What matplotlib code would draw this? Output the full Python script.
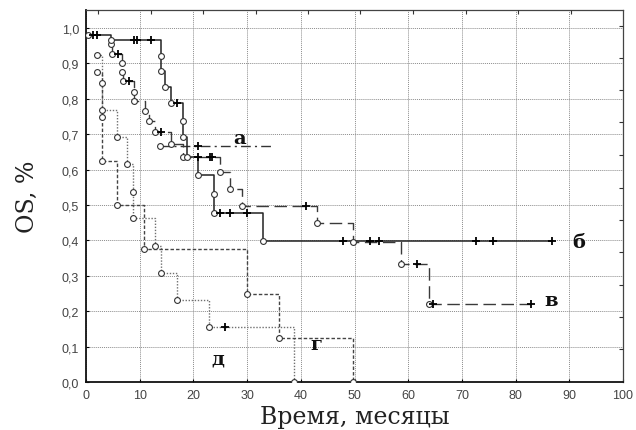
import matplotlib
matplotlib.use('Agg')
import matplotlib.pyplot as plt

# Kaplan-Meier curves:
# event times (months), survival after each event, censored times
a_time = [13.8]
a_surv = [0.667]
a_cens = [20.9]
a_end = 35.1

b_time = [0.4, 4.6, 13.9, 13.9, 14.8, 15.9, 18.0, 18.0, 18.8, 20.9, 23.8, 23.8, 32.9]
b_surv = [0.98, 0.966, 0.922, 0.879, 0.834, 0.788, 0.738, 0.691, 0.636, 0.585, 0.53, 0.478, 0.397]
b_cens = [1.3, 2.0, 8.9, 9.5, 12.1, 17.0, 24.9, 26.8, 29.9, 47.8, 52.8, 54.6, 72.6, 75.7, 86.7]

v_time = [4.6, 4.8, 6.7, 6.7, 6.9, 8.9, 8.9, 11.0, 11.8, 12.8, 15.9, 18.1,
          24.9, 26.8, 29.0, 43.0, 49.8, 58.7, 63.8]
v_surv = [0.955, 0.927, 0.901, 0.875, 0.849, 0.818, 0.795, 0.765, 0.738, 0.707, 0.672, 0.636,
          0.593, 0.545, 0.497, 0.45, 0.396, 0.333, 0.22]
v_cens = [6.0, 8.0, 13.9, 20.9, 23.1, 23.5, 40.9, 61.7, 64.7, 82.9]

g_time = [2.0, 2.9, 2.9, 5.8, 10.8, 29.9, 35.9, 49.8]
g_surv = [0.875, 0.75, 0.625, 0.5, 0.375, 0.25, 0.125, 0.0]
g_cens = []

d_time = [2.0, 2.9, 2.9, 5.8, 7.7, 8.8, 8.8, 12.8, 13.9, 16.9, 22.9, 38.8]
d_surv = [0.923, 0.846, 0.769, 0.692, 0.615, 0.538, 0.462, 0.385, 0.308, 0.231, 0.154, 0.0]
d_cens = [25.8]

# curve labels and where they sit
labels = ['а', 'б', 'в', 'г', 'д']
label_x = [28.6, 91.8, 86.6, 42.9, 24.5]
label_y = [0.69, 0.395, 0.232, 0.107, 0.067]

# odd tick marks on the top and right frame
top_ticks = [2.3, 12.1, 21.8, 31.6, 41.4, 51.1, 60.9, 70.7, 80.5, 90.3]
right_ticks = [1.006, 0.915, 0.825, 0.734, 0.641, 0.548, 0.457, 0.367, 0.274, 0.184, 0.093]


def km_path(times, surv, end):
    xs = [times[0]]
    ys = [surv[0]]
    for i in range(1, len(times)):
        xs += [times[i], times[i]]
        ys += [surv[i - 1], surv[i]]
    xs.append(end)
    ys.append(surv[-1])
    return xs, ys


def level(times, surv, c):
    lv = 1.0
    for t, s in zip(times, surv):
        if t < c:
            lv = s
    return lv


def draw_curve(ax, times, surv, cens, end, color, ls, lw):
    end = max([end] + list(cens) + list(times))
    xs, ys = km_path(times, surv, end)
    ax.plot(xs, ys, color=color, linestyle=ls, lw=lw, zorder=3)
    ax.plot(times, surv, 'o', ms=4.2, mfc='white', mec='#333333', mew=0.8, zorder=4)
    if cens:
        cy = [level(times, surv, c) for c in cens]
        ax.plot(cens, cy, '+', ms=5.5, mew=1.3, color='black', zorder=5)


fig = plt.figure(figsize=(6.36, 4.31), dpi=100)
ax = fig.add_axes([0.1352, 0.1114, 0.8444, 0.8631])

draw_curve(ax, d_time, d_surv, d_cens, 0, '#707070', (0, (1, 1.2)), 1.0)
draw_curve(ax, g_time, g_surv, g_cens, 0, '#444444', (0, (2.5, 1.5)), 1.0)
draw_curve(ax, a_time, a_surv, a_cens, a_end, '#333333', (0, (7, 3, 1.5, 3)), 1.0)
draw_curve(ax, v_time, v_surv, v_cens, 0, '#3a3a3a', (0, (9, 4)), 1.0)
draw_curve(ax, b_time, b_surv, b_cens, 0, '#222222', '-', 1.1)

for lab, x, y in zip(labels, label_x, label_y):
    ax.text(x, y, lab, fontsize=14, fontweight='bold', family='DejaVu Serif',
            ha='center', va='center', color='#111111')

ax.set_xlim(0, 100)
ax.set_ylim(0, 1.051)
ax.set_xticks(range(0, 101, 10))
ax.set_yticks([i / 10 for i in range(11)])
ax.set_yticklabels([('%.1f' % (i / 10)).replace('.', ',') for i in range(11)])
ax.grid(True, color='#8c8c8c', linestyle=(0, (1, 1)), lw=0.7)
ax.tick_params(direction='in', length=2, labelsize=9, labelcolor='#444444', pad=5)
for lab in ax.get_xticklabels() + ax.get_yticklabels():
    lab.set_family('Liberation Sans')

for s in ['left', 'bottom']:
    ax.spines[s].set_linewidth(1.3)
    ax.spines[s].set_color('#111111')
for s in ['top', 'right']:
    ax.spines[s].set_linewidth(0.9)
    ax.spines[s].set_color('#444444')

axt = ax.twiny()
axt.set_xlim(0, 100)
axt.set_xticks(top_ticks)
axt.set_xticklabels([])
axt.tick_params(direction='in', length=3, color='#333333')
axr = ax.twinx()
axr.set_ylim(0, 1.051)
axr.set_yticks(right_ticks)
axr.set_yticklabels([])
axr.tick_params(direction='in', length=3, color='#333333')
for a2 in (axt, axr):
    for s in a2.spines.values():
        s.set_visible(False)

ax.set_xlabel('Время, месяцы', family='DejaVu Serif', fontsize=17, color='#222222', labelpad=3)
ax.set_ylabel('OS, %', family='DejaVu Serif', fontsize=17, color='#222222', labelpad=16)

fig.savefig('out.png', dpi=100)
